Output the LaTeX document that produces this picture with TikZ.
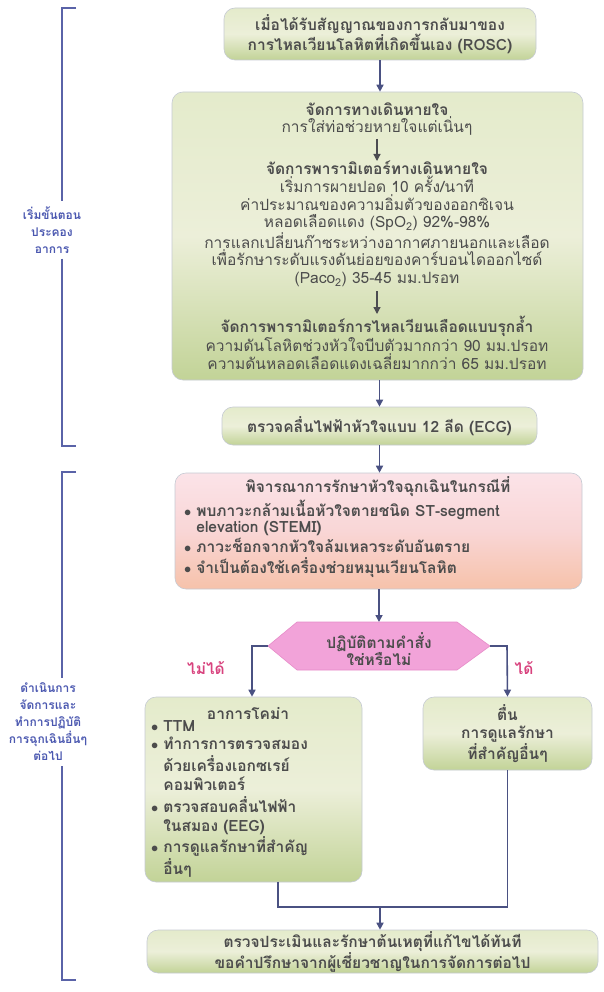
\documentclass[tikz,border=0pt]{standalone}
\usepackage{fontspec}
\setmainfont{Loma}[Script=Thai]
\usetikzlibrary{arrows.meta}

\definecolor{arrowc}{HTML}{4A5182}
\definecolor{brack}{HTML}{5A63A8}
\definecolor{sidetxt}{HTML}{4B58B0}
\definecolor{txt}{HTML}{4C4C4C}
\definecolor{gtop}{HTML}{E4EBCB}
\definecolor{gmid}{HTML}{ECEFD9}
\definecolor{gbot}{HTML}{C2D397}
\definecolor{pktop}{HTML}{FBE3E8}
\definecolor{pkmid}{HTML}{F9D6D6}
\definecolor{pkbot}{HTML}{F6C2AA}
\definecolor{hexfill}{HTML}{F2A3D9}
\definecolor{hexedge}{HTML}{E68BC8}
\definecolor{yesno}{HTML}{D8437E}
\definecolor{edge}{HTML}{C5CAD3}

\newcommand{\bodyfont}{\fontsize{15.5}{17.8}\selectfont}
\newcommand{\tightfont}{\fontsize{15.5}{16.7}\selectfont}
\newcommand{\tallfont}{\fontsize{15.5}{18.9}\selectfont}

\tikzset{
  x=1pt, y=-1pt,
  greenbox/.style={rounded corners=11pt, draw=edge, line width=0.6pt,
    top color=gtop, bottom color=gbot, middle color=gmid,
    inner sep=0pt, align=center, text=txt},
  pinkbox/.style={rounded corners=11pt, draw=edge, line width=0.6pt,
    top color=pktop, bottom color=pkbot, middle color=pkmid,
    inner sep=0pt, text=txt},
  body/.style={text=txt, align=center, inner sep=2pt, font=\bodyfont},
  bodybf/.style={body, font=\bfseries\bodyfont},
  tightbf/.style={body, font=\bfseries\tightfont},
  talltext/.style={text=txt, align=center, inner sep=2pt, font=\bfseries\tallfont},
  flow/.style={draw=arrowc, line width=1.6pt, -{Triangle[length=7pt,width=7pt]}},
  innerflow/.style={flow, draw=txt!90!arrowc, line width=1.3pt},
  link/.style={draw=arrowc, line width=1.6pt},
  bracket/.style={draw=brack, line width=1.3pt},
  sidelabel/.style={text=sidetxt, align=center, inner sep=5pt,
    font=\bfseries\fontsize{12}{17}\selectfont},
  answer/.style={text=yesno, font=\bfseries\bodyfont},
}

\begin{document}
\begin{tikzpicture}
\useasboundingbox (0,0) rectangle (604,992);

% ---- first stage: airway and circulation ----
\node[greenbox, minimum width=312pt, minimum height=52pt,
      font=\bfseries\fontsize{15.5}{20}\selectfont] (rosc) at (380,34)
  {เมื่อได้รับสัญญาณของการกลับมาของ\\การไหลเวียนโลหิตที่เกิดขึ้นเอง (ROSC)};

\node[greenbox, minimum width=411pt, minimum height=288pt] (airbox) at (377.5,236) {};

\node[body] (a1) at (377,119)
  {\textbf{จัดการทางเดินหายใจ}\\การใส่ท่อช่วยหายใจแต่เนิ่นๆ};
\node[body] (a2) at (377,224)
  {\textbf{จัดการพารามิเตอร์ทางเดินหายใจ}\\
   เริ่มการผายปอด 10 ครั้ง/นาที\\
   ค่าประมาณของความอิ่มตัวของออกซิเจน\\
   หลอดเลือดแดง (SpO\textsubscript{2}) 92\%-98\%\\
   การแลกเปลี่ยนก๊าซระหว่างอากาศภายนอกและเลือด\\
   เพื่อรักษาระดับแรงดันย่อยของคาร์บอนไดออกไซด์\\
   (Paco\textsubscript{2}) 35-45 มม.ปรอท};
\node[body] (a3) at (377,343)
  {\textbf{จัดการพารามิเตอร์การไหลเวียนเลือดแบบรุกล้ำ}\\
   ความดันโลหิตช่วงหัวใจบีบตัวมากกว่า 90 มม.ปรอท\\
   ความดันหลอดเลือดแดงเฉลี่ยมากกว่า 65 มม.ปรอท};

% steps inside the airway box
\coordinate (i1a) at (377,139);
\coordinate (i1b) at (377,161);
\coordinate (i2a) at (377,291);
\coordinate (i2b) at (377,314);

\node[greenbox, minimum width=315pt, minimum height=38pt,
      font=\bfseries\bodyfont] (ecg) at (379.5,426)
  {ตรวจคลื่นไฟฟ้าหัวใจแบบ 12 ลีด (ECG)};

% ---- second stage: emergency treatment ----
\node[pinkbox, minimum width=407pt, minimum height=116pt] (pink) at (378.5,531) {};
\node[bodybf] (ptitle) at (378,487) {พิจารณาการรักษาหัวใจฉุกเฉินในกรณีที่};
\node[tightbf, anchor=west, align=left] (plist) at (182,539)
  {\begin{tabular}{@{}l@{\hspace{5pt}}l@{}}
   $\bullet$ & พบภาวะกล้ามเนื้อหัวใจตายชนิด ST-segment\\
             & elevation (STEMI)\\
   $\bullet$ & ภาวะช็อกจากหัวใจล้มเหลวระดับอันตราย\\
   $\bullet$ & จำเป็นต้องใช้เครื่องช่วยหมุนเวียนโลหิต
   \end{tabular}};

% decision hexagon
\coordinate (qn) at (379,622);
\coordinate (qw) at (268,646);
\coordinate (qe) at (490,646);
\path[fill=hexfill, draw=hexedge, line width=0.6pt]
  (qw) -- (297,622) -- (457,622) -- (qe) -- (457,670) -- (297,670) -- cycle;
\node[bodybf] (q) at (379,649) {ปฏิบัติตามคำสั่ง\\ใช่หรือไม่};

\node[answer] (no) at (206,668) {ไม่ได้};
\node[answer] (yes) at (524,668) {ได้};

\node[greenbox, minimum width=217pt, minimum height=185pt] (coma) at (253.5,789.5) {};
\node[talltext] (ctitle) at (248,714) {อาการโคม่า};
\node[talltext, anchor=west, align=left] (clist) at (149,799)
  {\begin{tabular}{@{}l@{\hspace{5pt}}l@{}}
   $\bullet$ & TTM\\
   $\bullet$ & ทำการการตรวจสมอง\\
             & ด้วยเครื่องเอกซเรย์\\
             & คอมพิวเตอร์\\
   $\bullet$ & ตรวจสอบคลื่นไฟฟ้า\\
             & ในสมอง (EEG)\\
   $\bullet$ & การดูแลรักษาที่สำคัญ\\
             & อื่นๆ
   \end{tabular}};

\node[greenbox, minimum width=169pt, minimum height=73pt,
      font=\bfseries\tallfont] (awake) at (507.5,733.5)
  {ตื่น\\การดูแลรักษา\\ที่สำคัญอื่นๆ};

\node[greenbox, minimum width=451pt, minimum height=43pt,
      font=\bfseries\fontsize{15.5}{17.5}\selectfont] (final) at (372.5,951.5)
  {ตรวจประเมินและรักษาต้นเหตุที่แก้ไขได้ทันที\\ขอคำปรึกษาจากผู้เชี่ยวชาญในการจัดการต่อไป};

% ---- connectors ----
\draw[flow] (rosc) -- (rosc |- airbox.north);
\draw[innerflow] (i1a) -- (i1b);
\draw[innerflow] (i2a) -- (i2b);
\draw[flow] (airbox.south -| ecg) -- (ecg);
\draw[flow] (ecg) -- (ecg |- pink.north);
\draw[flow] (pink.south -| qn) -- (qn);
\draw[flow] (qw) -- (252,646) -- (coma.north -| 252,0);
\draw[flow] (qe) -- (507,646) -- (awake.north);

\coordinate (join) at (380,907);
\draw[link] ([xshift=24.5pt]coma.south) |- (join);
\draw[link] (awake.south) |- (join);
\draw[flow] (join) -- (final.north -| join);

% ---- stage brackets ----
\node[sidelabel] (s1) at (52,230) {เริ่มขั้นตอน\\ประคอง\\อาการ};
\node[sidelabel] (s2) at (48,722) {ดำเนินการ\\จัดการและ\\ทำการปฏิบัติ\\การฉุกเฉินอื่นๆ\\ต่อไป};

\coordinate (b1a) at (76,8);
\coordinate (b1b) at (76,446);
\coordinate (b2a) at (76,472);
\coordinate (b2b) at (76,980);
\draw[bracket] (b1a) -- (b1a -| 62,0) -- (s1.north -| 62,0);
\draw[bracket] (s1.south -| 62,0) -- (b1b -| 62,0) -- (b1b);
\draw[bracket] (b2a) -- (b2a -| 62,0) -- (s2.north -| 62,0);
\draw[bracket] (s2.south -| 62,0) -- (b2b -| 62,0) -- (b2b);
\end{tikzpicture}
\end{document}
